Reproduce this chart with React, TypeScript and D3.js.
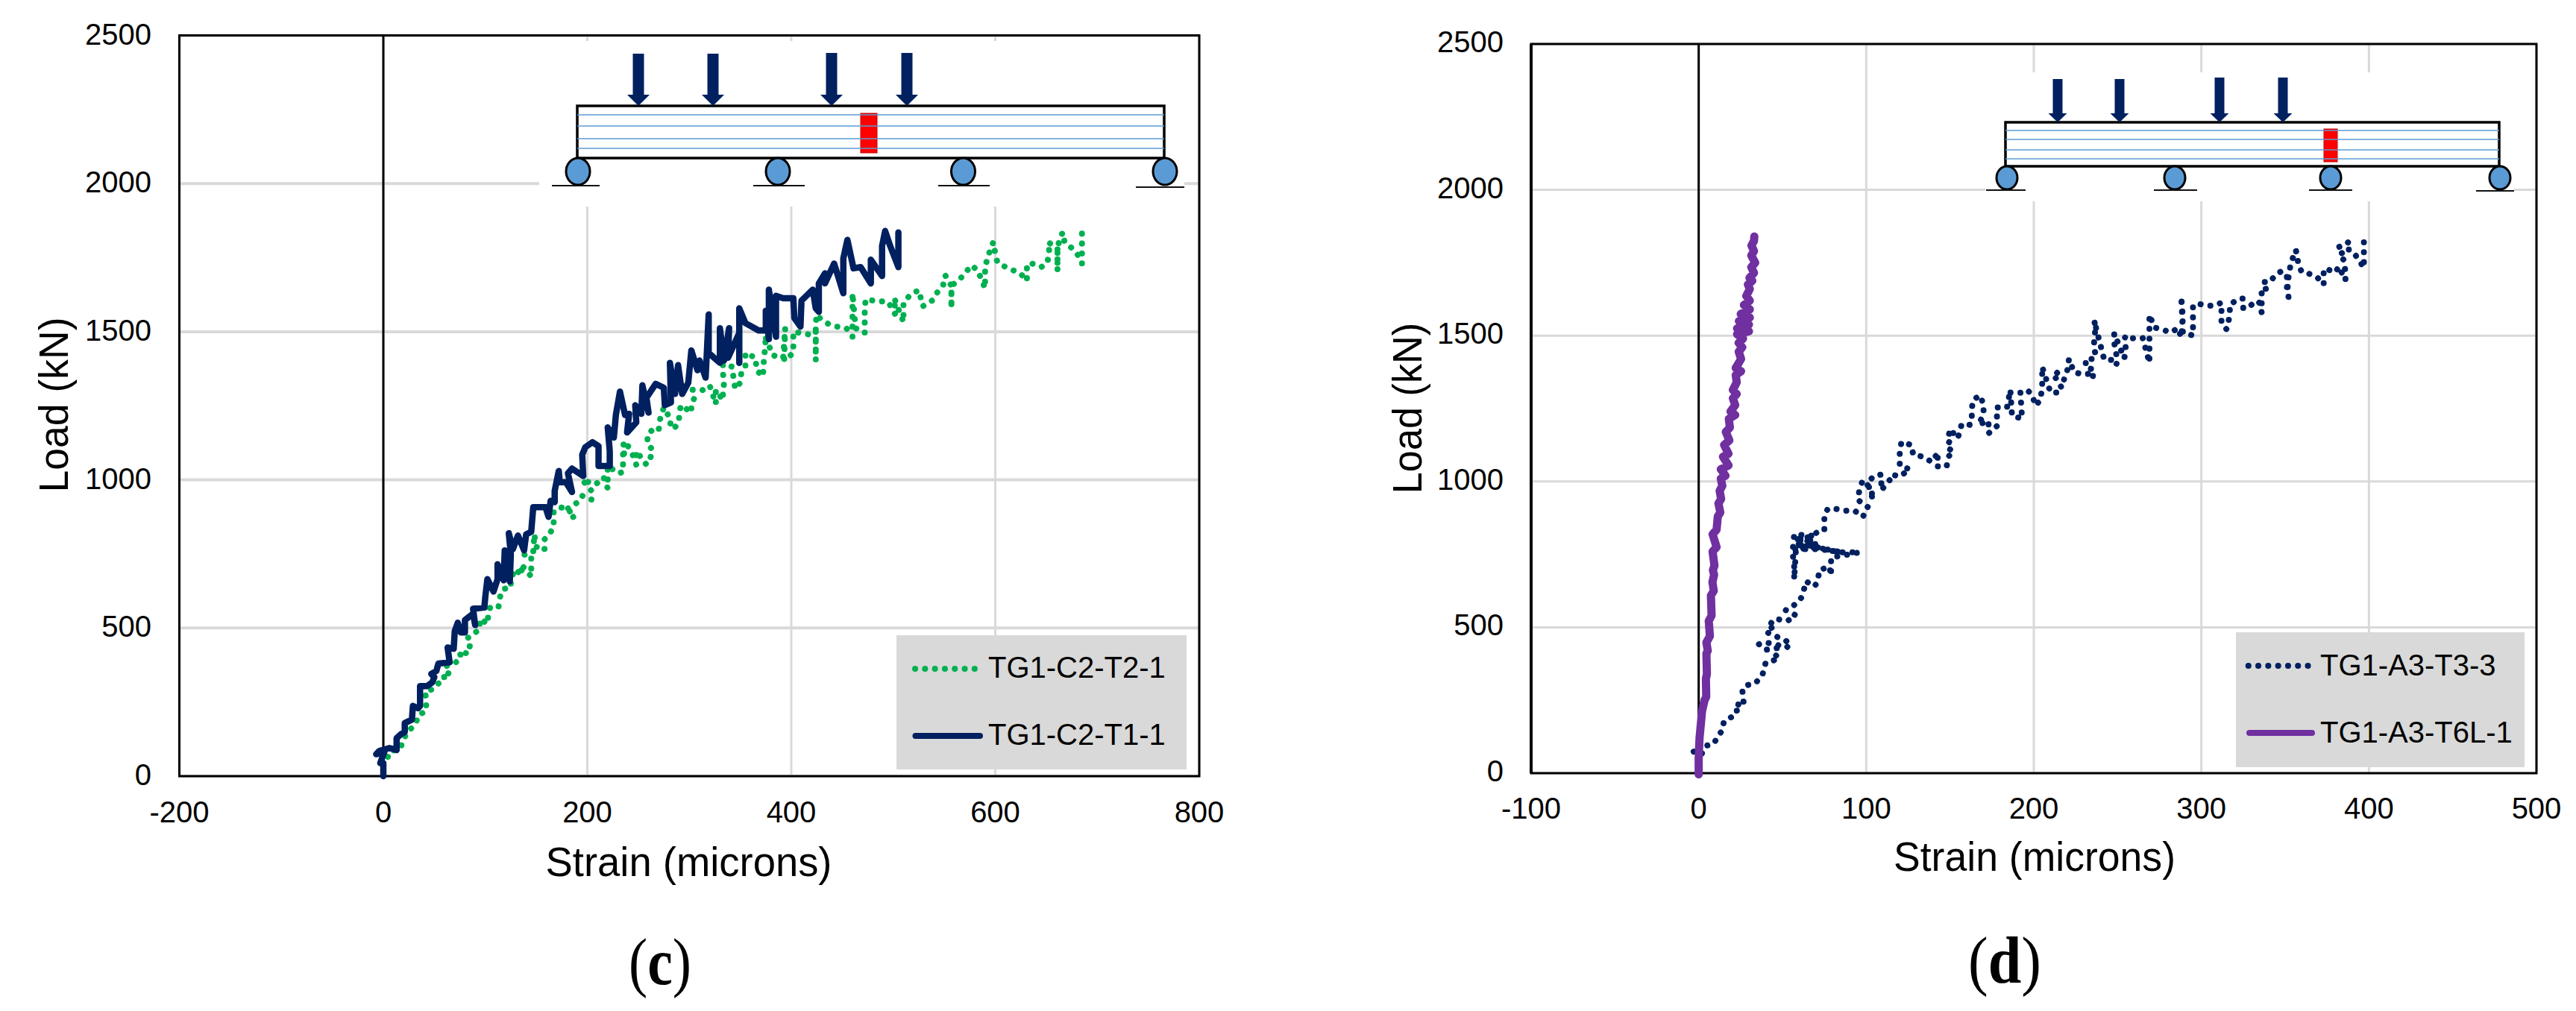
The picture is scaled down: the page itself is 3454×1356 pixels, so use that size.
import React from "react";
import * as d3 from "d3";

type Pt = [number, number];

const yTicks = [0, 500, 1000, 1500, 2000, 2500];
const xTicksC = [-200, 0, 200, 400, 600, 800];
const xTicksD = [-100, 0, 100, 200, 300, 400, 500];

const seriesC_T2: Pt[] = [[0,36],[3,49],[6,82],[17,95],[19,120],[23,145],[32,179],[34,204],[42,221],[42,258],[41,284],[50,296],[54,313],[60,325],[59,351],[65,346],[62,372],[71,384],[76,397],[75,422],[83,413],[85,443],[82,464],[90,485],[94,493],[95,531],[102,514],[103,548],[105,573],[113,573],[115,615],[118,632],[125,636],[125,661],[129,699],[136,678],[135,715],[145,674],[145,715],[145,741],[138,747],[147,757],[148,816],[150,774],[158,762],[158,799],[163,818],[167,841],[167,892],[173,907],[181,904],[187,870],[181,904],[191,925],[195,946],[204,933],[205,959],[195,1000],[208,984],[216,1009],[220,971],[220,1030],[220,1048],[230,1022],[235,1026],[235,1110],[236,1127],[241,1118],[235,1089],[244,1089],[248,1051],[248,1097],[258,1051],[262,1076],[264,1101],[259,1122],[259,1152],[265,1173],[270,1168],[271,1200],[273,1223],[275,1244],[282,1202],[281,1177],[286,1177],[290,1198],[290,1227],[292,1252],[302,1227],[302,1252],[305,1277],[303,1304],[313,1303],[320,1318],[326,1256],[326,1303],[333,1269],[333,1298],[334,1324],[333,1361],[333,1391],[342,1382],[343,1353],[345,1307],[350,1328],[351,1361],[355,1382],[355,1428],[365,1412],[366,1370],[372,1349],[373,1382],[373,1412],[375,1454],[374,1487],[382,1420],[392,1412],[394,1512],[393,1403],[402,1428],[402,1500],[417,1491],[424,1504],[424,1403],[424,1529],[425,1558],[429,1542],[436,1527],[445,1517],[454,1512],[460,1483],[460,1630],[463,1512],[472,1496],[472,1579],[473,1609],[485,1603],[495,1601],[502,1558],[501,1613],[510,1533],[510,1598],[517,1626],[525,1640],[529,1586],[538,1605],[543,1632],[549,1659],[551,1690],[557,1655],[557,1579],[557,1655],[565,1676],[571,1701],[577,1724],[583,1705],[590,1647],[590,1718],[593,1756],[598,1802],[600,1764],[602,1735],[608,1722],[616,1709],[624,1699],[631,1672],[631,1728],[636,1730],[645,1718],[651,1732],[653,1768],[652,1802],[661,1781],[661,1705],[661,1781],[663,1811],[666,1835],[668,1802],[673,1789],[680,1765],[685,1730],[685,1831]];

const seriesC_T1: Pt[] = [[0,0],[0,44],[-3,44],[1,82],[-7,74],[-4,85],[6,95],[13,88],[13,128],[17,141],[21,149],[21,179],[28,191],[29,237],[34,229],[36,237],[36,304],[43,304],[48,317],[50,334],[47,345],[52,355],[54,380],[65,384],[63,434],[69,430],[70,489],[73,518],[76,485],[80,485],[80,527],[88,548],[90,510],[88,565],[99,569],[100,606],[102,665],[108,623],[112,665],[112,715],[118,661],[119,762],[124,657],[125,749],[123,820],[127,766],[132,812],[138,762],[140,816],[145,825],[147,908],[159,908],[162,875],[164,929],[168,925],[168,963],[172,1030],[173,992],[179,992],[185,959],[181,1022],[185,1038],[196,1013],[195,1085],[198,1110],[205,1127],[211,1114],[211,1047],[222,1047],[222,1097],[220,1177],[226,1143],[228,1219],[232,1298],[237,1219],[241,1223],[239,1160],[248,1194],[247,1252],[253,1223],[254,1319],[260,1227],[258,1277],[267,1324],[275,1311],[276,1252],[282,1261],[281,1395],[286,1290],[289,1387],[293,1290],[299,1328],[302,1437],[308,1370],[310,1403],[316,1345],[319,1558],[319,1428],[330,1395],[330,1512],[334,1403],[339,1512],[338,1412],[349,1496],[349,1395],[349,1579],[355,1529],[368,1504],[375,1504],[375,1571],[378,1475],[378,1642],[385,1483],[385,1621],[392,1613],[402,1613],[403,1546],[409,1517],[410,1605],[421,1642],[424,1579],[427,1567],[427,1663],[433,1697],[433,1663],[442,1730],[451,1630],[451,1747],[455,1810],[461,1714],[468,1718],[478,1663],[478,1743],[489,1688],[489,1789],[492,1840],[497,1789],[505,1718],[505,1835]];

const seriesD_T3: Pt[] = [[-3,74],[0,40],[3,83],[5,95],[9,101],[12,132],[14,145],[15,176],[20,194],[23,207],[22,238],[27,231],[26,287],[29,302],[34,309],[38,337],[39,355],[40,380],[43,384],[48,392],[45,411],[47,429],[40,423],[36,442],[40,448],[46,442],[52,429],[55,442],[52,454],[40,485],[43,497],[46,507],[43,516],[47,528],[53,522],[58,541],[52,559],[56,572],[60,590],[62,609],[64,658],[69,640],[71,656],[72,696],[78,708],[79,677],[79,739],[96,757],[86,757],[77,764],[71,776],[63,770],[58,764],[57,665],[57,714],[56,757],[57,819],[69,813],[57,800],[69,795],[57,782],[70,780],[57,768],[72,768],[85,758],[72,772],[60,806],[70,786],[60,772],[66,812],[72,829],[75,832],[75,881],[77,906],[82,906],[87,900],[93,900],[98,879],[101,912],[95,937],[96,974],[98,1005],[103,974],[104,937],[101,993],[104,1017],[109,1024],[109,970],[114,1005],[115,1024],[120,1017],[126,1042],[120,1054],[120,1104],[121,1135],[127,1125],[128,1092],[134,1085],[139,1067],[143,1100],[142,1052],[148,1052],[149,1085],[152,1104],[148,1116],[152,1168],[148,1166],[155,1156],[157,1197],[162,1194],[163,1218],[163,1252],[164,1281],[168,1295],[170,1263],[170,1230],[167,1195],[173,1208],[173,1165],[178,1190],[178,1222],[178,1254],[184,1254],[186,1314],[187,1225],[193,1216],[192,1305],[196,1314],[199,1297],[201,1260],[204,1280],[205,1327],[205,1361],[205,1393],[210,1305],[214,1305],[217,1318],[212,1365],[213,1378],[218,1349],[220,1382],[221,1420],[224,1375],[229,1367],[233,1369],[235,1352],[236,1384],[231,1390],[231,1420],[236,1420],[237,1431],[236,1458],[236,1492],[237,1528],[236,1552],[242,1418],[248,1416],[249,1399],[250,1412],[248,1475],[248,1508],[254,1422],[255,1454],[254,1488],[255,1501],[259,1491],[265,1492],[269,1407],[269,1501],[269,1543],[269,1572],[272,1528],[277,1520],[282,1511],[286,1526],[288,1494],[289,1560],[288,1633],[289,1509],[295,1501],[295,1535],[295,1571],[295,1603],[298,1610],[303,1603],[308,1603],[312,1613],[312,1569],[312,1545],[315,1522],[316,1543],[317,1573],[317,1606],[322,1626],[325,1627],[325,1593],[328,1597],[333,1620],[335,1611],[336,1579],[336,1645],[335,1658],[339,1661],[337,1684],[341,1684],[344,1707],[348,1722],[351,1703],[352,1633],[351,1664],[353,1735],[355,1775],[357,1776],[356,1806],[358,1743],[360,1717],[364,1713],[369,1701],[373,1675],[373,1695],[373,1728],[375,1728],[380,1717],[382,1737],[386,1690],[386,1718],[385,1760],[382,1775],[385,1788],[382,1804],[387,1815],[388,1824],[388,1792],[392,1776],[397,1733],[397,1790],[397,1824]];

const seriesD_T6L: Pt[] = [[0,-4],[0,52],[0.5,120],[1,150],[2,213],[2.5,225],[3.5,250],[4.5,262],[4.3,324],[4.9,340],[4.6,410],[5.4,420],[4.6,448],[6.7,470],[6,522],[7.7,540],[7.3,609],[9,625],[8.2,655],[9.2,680],[8.5,696],[9.4,712],[8.3,760],[10.7,775],[8.3,819],[10.7,835],[11.4,880],[12.9,894],[11.8,925],[13.4,940],[12.5,968],[14.1,985],[13.2,1010],[16,1020],[13.2,1042],[17.8,1055],[14.5,1085],[17.8,1095],[15.2,1125],[18.3,1141],[16.2,1170],[18.6,1185],[18,1215],[21.8,1228],[19,1240],[21.8,1262],[20.4,1285],[22.7,1300],[20.4,1314],[22.7,1340],[22.1,1365],[25.3,1378],[22.1,1389],[25.3,1420],[23.9,1445],[26,1460],[23.9,1475],[26.5,1490],[22.9,1505],[30,1515],[22.9,1525],[30,1538],[24,1550],[30.5,1562],[25.1,1574],[30.5,1590],[27,1605],[30.5,1620],[28.4,1636],[30.5,1660],[29.4,1675],[32,1688],[30.3,1698],[33,1715],[31.4,1735],[33.7,1750],[31.4,1775],[33,1790],[31.5,1809],[33,1825],[33.2,1840]];

const NAVY = "#002060";
const GREEN = "#00b050";
const PURPLE = "#7030a0";
const BLUE = "#5b9bd5";
const GRID = "#d9d9d9";
const FONT = "'Liberation Sans', Arial, sans-serif";
const DOT = "0.1 13.2";

interface PanelProps {
  left: number; right: number; top: number; bottom: number;
  xDomain: [number, number]; xTicks: number[];
  labelRight: number; labelDy: number; tickBaseline: number; gridY: number; leftWidth: number;
  xTitleX: number; xTitleY: number; xTitleLen: number; yTitleX: number; yTitleY: number; yTitleLen: number;
  letter: string; letterX: number; letterY: number; letterScale: number;
  first: Pt[]; second: Pt[]; secondWidth: number;
  firstColor: string; secondColor: string; firstName: string; secondName: string;
  legend: { x0: number; x1: number; y0: number; y1: number; lineX0: number; lineX1: number; dotX0: number; dotX1: number; textX: number; line1: number; line2: number; base1: number; base2: number };
  beam: { mask: [number, number, number, number]; x0: number; x1: number; y0: number; y1: number; lines: number[]; red: [number, number, number, number]; arrows: [number, number][]; shaft: number; head: number; headY: number; rollers: number[]; rx: number; ry: number; rollerY: number; ground: [number, number, number][] };
}

function Panel(p: PanelProps) {
  const x = d3.scaleLinear().domain(p.xDomain).range([p.left, p.right]);
  const y = d3.scaleLinear().domain([0, 2500]).range([p.bottom, p.top]);
  const line = d3.line<Pt>().x((d) => x(d[0])).y((d) => y(d[1]));
  const b = p.beam;
  const L = p.legend;
  const lineStyle = { fill: "none", strokeLinecap: "round" as const, strokeLinejoin: "round" as const };
  return (
    <g fontFamily={FONT} fill="#000">
      {p.xTicks.map((t) => <line key={"vx" + t} x1={x(t)} x2={x(t)} y1={p.top} y2={p.bottom} stroke={GRID} strokeWidth={3} />)}
      {yTicks.map((t) => <line key={"hy" + t} x1={p.left} x2={p.right} y1={y(t)} y2={y(t)} stroke={GRID} strokeWidth={p.gridY} />)}
      <rect x={b.mask[0]} y={b.mask[1]} width={b.mask[2] - b.mask[0]} height={b.mask[3] - b.mask[1]} fill="#fff" />
      <rect x={p.left} y={p.top} width={p.right - p.left} height={p.bottom - p.top} fill="none" stroke="#000" strokeWidth={3} />
      <line x1={p.left} x2={p.left} y1={p.top} y2={p.bottom} stroke="#000" strokeWidth={p.leftWidth} />
      <line x1={x(0)} x2={x(0)} y1={p.top} y2={p.bottom} stroke="#000" strokeWidth={3} />

      <rect x={b.x0} y={b.y0} width={b.x1 - b.x0} height={b.y1 - b.y0} fill="#fff" stroke="#000" strokeWidth={3.5} />
      <rect x={b.red[0]} y={b.red[1]} width={b.red[2] - b.red[0]} height={b.red[3] - b.red[1]} fill="#ff0000" stroke="#c00000" strokeWidth={1} />
      {b.lines.map((v) => <line key={v} x1={b.x0} x2={b.x1} y1={v} y2={v} stroke={BLUE} strokeWidth={1.5} />)}
      {b.arrows.map(([ax, top], i) => (
        <path key={i} fill={NAVY} d={`M${ax - b.shaft / 2},${top}H${ax + b.shaft / 2}V${b.headY}H${ax + b.head / 2}L${ax},${b.y0}L${ax - b.head / 2},${b.headY}H${ax - b.shaft / 2}Z`} />
      ))}
      {b.rollers.map((rx) => <ellipse key={rx} cx={rx} cy={b.rollerY} rx={b.rx} ry={b.ry} fill={BLUE} stroke="#000" strokeWidth={3} />)}
      {b.ground.map(([g0, g1, gy]) => <line key={g0} x1={g0} x2={g1} y1={gy} y2={gy} stroke="#111" strokeWidth={2} />)}

      <path d={line(p.first) || ""} {...lineStyle} stroke={p.firstColor} strokeWidth={8} strokeDasharray={DOT} />
      <path d={line(p.second) || ""} {...lineStyle} stroke={p.secondColor} strokeWidth={p.secondWidth} />

      <rect x={L.x0} y={L.y0} width={L.x1 - L.x0} height={L.y1 - L.y0} fill={GRID} />
      <line x1={L.dotX0} x2={L.dotX1} y1={L.line1} y2={L.line1} {...lineStyle} stroke={p.firstColor} strokeWidth={8} strokeDasharray={DOT} />
      <line x1={L.lineX0} x2={L.lineX1} y1={L.line2} y2={L.line2} {...lineStyle} stroke={p.secondColor} strokeWidth={8} />
      <text x={L.textX} y={L.base1} fontSize={40}>{p.firstName}</text>
      <text x={L.textX} y={L.base2} fontSize={40}>{p.secondName}</text>

      {p.xTicks.map((t) => <text key={"xl" + t} x={x(t)} y={p.tickBaseline} fontSize={40} textAnchor="middle">{t}</text>)}
      {yTicks.map((t) => <text key={"yl" + t} x={p.labelRight} y={y(t) + p.labelDy} fontSize={40} textAnchor="end">{t}</text>)}
      <text x={p.xTitleX - p.xTitleLen / 2} y={p.xTitleY} fontSize={55} textLength={p.xTitleLen} lengthAdjust="spacingAndGlyphs">Strain (microns)</text>
      <text transform={`translate(${p.yTitleX},${p.yTitleY + p.yTitleLen / 2}) rotate(-90)`} fontSize={55} textLength={p.yTitleLen} lengthAdjust="spacingAndGlyphs">Load (kN)</text>
      <text transform={`translate(${p.letterX},${p.letterY}) scale(${p.letterScale},1)`} fontSize={88} textAnchor="middle" fontFamily="'Liberation Serif', serif">(<tspan fontWeight="bold">{p.letter}</tspan>)</text>
    </g>
  );
}

export default function App() {
  return (
    <svg width={3454} height={1356} viewBox="0 0 3454 1356" style={{ position: "absolute", left: 0, top: 0, display: "block", background: "#fff" }}>
      <Panel
        left={240.5} right={1608} top={47.5} bottom={1041}
        xDomain={[-200, 800]} xTicks={xTicksC}
        labelRight={203} labelDy={12} tickBaseline={1103} gridY={4} leftWidth={3}
        xTitleX={923.5} xTitleY={1175} xTitleLen={384} yTitleX={91} yTitleY={543} yTitleLen={235}
        letter="c" letterX={885} letterY={1320} letterScale={0.86}
        first={seriesC_T2} second={seriesC_T1} secondWidth={8.5}
        firstColor={GREEN} secondColor={NAVY} firstName="TG1-C2-T2-1" secondName="TG1-C2-T1-1"
        legend={{ x0: 1202, x1: 1591, y0: 852, y1: 1032, lineX0: 1227.5, lineX1: 1314, dotX0: 1227, dotX1: 1310, textX: 1325, line1: 897, line2: 987, base1: 909, base2: 999 }}
        beam={{ mask: [723, 55, 1588, 277], x0: 774, x1: 1561, y0: 142, y1: 212, lines: [154, 169, 186, 199], red: [1154, 152, 1176, 205], arrows: [[856, 72], [956, 72], [1115, 71], [1216, 71]], shaft: 15, head: 30, headY: 127, rollers: [775, 1043, 1291.5, 1562], rx: 16, ry: 18, rollerY: 230, ground: [[740, 804, 249], [1010, 1079, 249], [1258, 1327, 249], [1523, 1588, 251]] }}
      />
      <Panel
        left={2053} right={3401} top={59} bottom={1037}
        xDomain={[-100, 500]} xTicks={xTicksD}
        labelRight={2016} labelDy={11} tickBaseline={1098} gridY={3} leftWidth={4}
        xTitleX={2728} xTitleY={1168} xTitleLen={378} yTitleX={1906} yTitleY={547.5} yTitleLen={229.5}
        letter="d" letterX={2688} letterY={1318} letterScale={0.91}
        first={seriesD_T3} second={seriesD_T6L} secondWidth={11}
        firstColor={NAVY} secondColor={PURPLE} firstName="TG1-A3-T3-3" secondName="TG1-A3-T6L-1"
        legend={{ x0: 2998, x1: 3385, y0: 848, y1: 1029, lineX0: 3016, lineX1: 3100, dotX0: 3014.7, dotX1: 3096, textX: 3111, line1: 893, line2: 983, base1: 906, base2: 996 }}
        beam={{ mask: [2662, 97, 3371, 270], x0: 2689, x1: 3351, y0: 164, y1: 223, lines: [175, 187, 201, 213], red: [3116, 173, 3134, 217], arrows: [[2759, 106], [2842, 106], [2976, 104], [3061, 104]], shaft: 13, head: 25, headY: 152, rollers: [2691, 2916, 3125, 3352], rx: 14, ry: 15.5, rollerY: 238.5, ground: [[2663, 2716, 255], [2888, 2946, 255], [3096, 3154, 255], [3320, 3371, 256]] }}
      />
    </svg>
  );
}
